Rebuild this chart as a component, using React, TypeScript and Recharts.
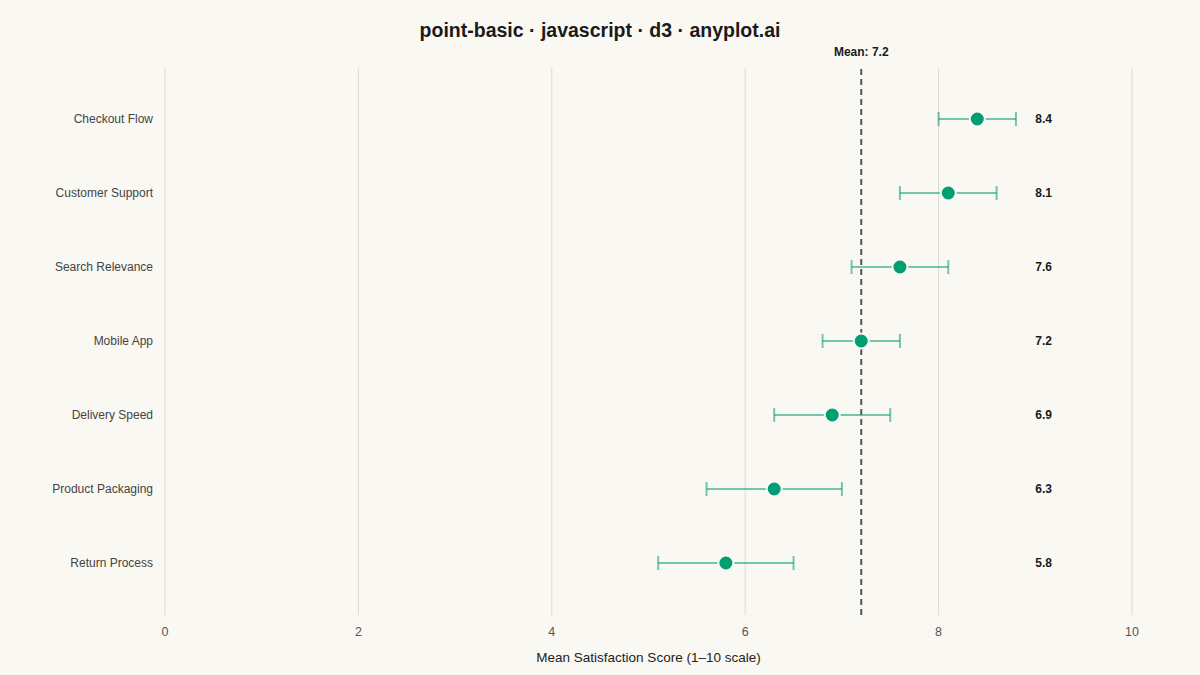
import React from "react";
import {
  ComposedChart,
  Scatter,
  XAxis,
  YAxis,
  CartesianGrid,
  ReferenceLine,
  ErrorBar,
} from "recharts";

const categories = [
  "Checkout Flow",
  "Customer Support",
  "Search Relevance",
  "Mobile App",
  "Delivery Speed",
  "Product Packaging",
  "Return Process",
];
const scores = [8.4, 8.1, 7.6, 7.2, 6.9, 6.3, 5.8];
const errors = [0.4, 0.5, 0.5, 0.4, 0.6, 0.7, 0.7];
const xTicks = [0, 2, 4, 6, 8, 10];
const meanScore = 7.2;
const labelColumn = 9;

const GREEN = "#009e73";
const BG = "#faf8f2";
const FONT = "'Liberation Sans', Arial, Helvetica, sans-serif";

const data = categories.map((name, i) => ({
  name,
  score: scores[i],
  err: errors[i],
  labelX: labelColumn,
}));

const Dot = (props: any) => {
  const { cx, cy } = props;
  if (cx == null || cy == null) return null;
  return <circle cx={cx} cy={cy} r={7.5} fill={GREEN} stroke={BG} strokeWidth={2} />;
};

const ValueLabel = (props: any) => {
  const { cx, cy, payload } = props;
  if (cx == null || cy == null) return null;
  return (
    <text
      x={cx}
      y={cy}
      dy={4.2}
      textAnchor="start"
      fontSize={12}
      fontWeight="bold"
      fill="#1a1a1a"
      fontFamily={FONT}
    >
      {payload.score.toFixed(1)}
    </text>
  );
};

export default function App() {
  return (
    <div style={{ position: "relative", width: 1200, height: 675, background: BG, fontFamily: FONT }}>
      <style>{"body{margin:0;background:" + BG + "}"}</style>
      <div style={{ position: "absolute", top: 0, left: 0, width: 1200, textAlign: "center" }}>
        <div
          style={{
            marginTop: 19,
            fontSize: 19.5,
            fontWeight: "bold",
            color: "#1a1a1a",
          }}
        >
          point-basic · javascript · d3 · anyplot.ai
        </div>
      </div>
      <ComposedChart
        width={1200}
        height={675}
        data={data}
        layout="vertical"
        margin={{ top: 68, right: 68, bottom: 0, left: 0 }}
        style={{ fontFamily: FONT }}
      >
        <CartesianGrid horizontal={false} stroke="#dcd9d2" strokeWidth={1} />
        <XAxis
          type="number"
          dataKey="score"
          domain={[0, 10]}
          ticks={xTicks}
          axisLine={false}
          tickLine={false}
          tickMargin={6}
          tick={{ fontSize: 12.5, fill: "#555" }}
          height={60}
          label={{
            value: "Mean Satisfaction Score (1–10 scale)",
            position: "insideBottom",
            offset: 13,
            fontSize: 13.5,
            fill: "#222",
          }}
        />
        <XAxis xAxisId="labels" type="number" dataKey="labelX" domain={[0, 10]} hide />
        <YAxis
          type="category"
          dataKey="name"
          width={165}
          axisLine={false}
          tickLine={false}
          tickSize={0}
          tickMargin={12}
          padding={{ top: 51, bottom: 52 }}
          tick={{ fontSize: 12, fill: "#444" }}
        />
        <ReferenceLine
          x={meanScore}
          stroke="#555"
          strokeWidth={2}
          strokeDasharray="6 4"
          label={{
            value: "Mean: 7.2",
            position: "top",
            offset: 12,
            fontSize: 12,
            fontWeight: "bold",
            fill: "#1a1a1a",
          }}
        />
        <Scatter dataKey="score" shape={<Dot />} isAnimationActive={false}>
          <ErrorBar
            dataKey="err"
            direction="x"
            width={7}
            stroke={GREEN}
            strokeOpacity={0.55}
            strokeWidth={2}
          />
        </Scatter>
        <Scatter
          xAxisId="labels"
          dataKey="labelX"
          shape={<ValueLabel />}
          isAnimationActive={false}
        />
      </ComposedChart>
    </div>
  );
}
